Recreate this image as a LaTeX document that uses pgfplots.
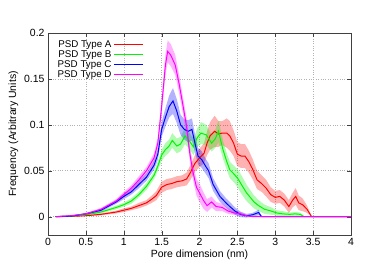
\documentclass[border=0pt]{standalone}
\usepackage{fontspec}
\setmainfont{Liberation Sans}
\usepackage{pgfplots}
\usepackage{pgfplotstable}
\pgfplotsset{compat=1.18}
\usepgfplotslibrary{fillbetween}

\definecolor{cA}{RGB}{255,0,0}
\definecolor{cB}{RGB}{0,245,0}
\definecolor{cC}{RGB}{0,0,255}
\definecolor{cD}{RGB}{255,0,255}

% x = pore dimension, y = mean frequency, e = half width of the band
\pgfplotstableread{
x y e
0.1 0 0
0.3 0.0003 0.0002
0.5 0.001 0.0005
0.7 0.0025 0.001
0.9 0.005 0.0015
1.0 0.007 0.002
1.1 0.009 0.002
1.2 0.012 0.003
1.3 0.015 0.003
1.37 0.019 0.004
1.43 0.023 0.005
1.50 0.032 0.006
1.57 0.035 0.006
1.63 0.036 0.006
1.70 0.038 0.006
1.77 0.039 0.006
1.83 0.041 0.007
1.88 0.048 0.008
1.94 0.058 0.009
2.00 0.064 0.010
2.06 0.069 0.011
2.10 0.080 0.013
2.14 0.088 0.015
2.20 0.093 0.017
2.25 0.090 0.014
2.30 0.091 0.013
2.36 0.091 0.016
2.40 0.088 0.016
2.45 0.080 0.014
2.50 0.068 0.013
2.55 0.066 0.013
2.60 0.066 0.013
2.65 0.060 0.012
2.70 0.052 0.011
2.76 0.040 0.010
2.82 0.036 0.009
2.88 0.031 0.009
2.94 0.024 0.008
3.00 0.021 0.007
3.06 0.022 0.007
3.12 0.018 0.007
3.18 0.011 0.007
3.23 0.018 0.008
3.27 0.022 0.009
3.31 0.015 0.008
3.36 0.013 0.007
3.42 0.008 0.004
3.48 0 0
4.0 0 0
}\tA

\pgfplotstableread{
x y e
0.1 0 0
0.3 0.0005 0.0003
0.5 0.002 0.0008
0.7 0.005 0.0015
0.9 0.010 0.002
1.0 0.013 0.002
1.1 0.017 0.003
1.2 0.024 0.003
1.3 0.033 0.004
1.4 0.045 0.004
1.45 0.055 0.005
1.50 0.067 0.006
1.55 0.073 0.007
1.60 0.077 0.007
1.64 0.083 0.008
1.70 0.077 0.008
1.75 0.079 0.008
1.81 0.088 0.009
1.86 0.083 0.009
1.92 0.076 0.009
1.97 0.086 0.010
2.02 0.091 0.012
2.09 0.089 0.011
2.16 0.080 0.009
2.21 0.085 0.010
2.25 0.093 0.012
2.31 0.073 0.010
2.36 0.060 0.009
2.40 0.051 0.009
2.46 0.046 0.009
2.51 0.041 0.010
2.56 0.034 0.010
2.62 0.026 0.009
2.67 0.021 0.008
2.72 0.016 0.007
2.78 0.012 0.006
2.86 0.008 0.005
2.95 0.006 0.004
3.02 0.004 0.003
3.10 0.003 0.003
3.19 0.0025 0.002
3.26 0.003 0.002
3.33 0.0025 0.002
3.38 0 0
4.0 0 0
}\tB

\pgfplotstableread{
x y e
0.1 0 0
0.3 0.0005 0.0003
0.5 0.003 0.001
0.7 0.007 0.0015
0.9 0.016 0.002
1.0 0.022 0.003
1.1 0.027 0.003
1.2 0.035 0.004
1.3 0.043 0.004
1.4 0.056 0.005
1.45 0.068 0.006
1.50 0.095 0.008
1.55 0.108 0.010
1.60 0.120 0.012
1.65 0.126 0.014
1.70 0.115 0.013
1.75 0.100 0.011
1.80 0.095 0.011
1.85 0.093 0.012
1.90 0.095 0.012
1.94 0.080 0.010
1.98 0.066 0.009
2.03 0.062 0.009
2.08 0.055 0.008
2.12 0.050 0.008
2.18 0.035 0.007
2.27 0.022 0.006
2.35 0.015 0.005
2.40 0.011 0.005
2.47 0.006 0.004
2.54 0.0025 0.003
2.62 0.001 0.002
2.70 0.002 0.002
2.78 0.0045 0.003
2.82 0 0
4.0 0 0
}\tC

\pgfplotstableread{
x y e
0.1 0 0
0.3 0.001 0.0005
0.5 0.003 0.001
0.7 0.008 0.0015
0.9 0.017 0.002
1.0 0.024 0.003
1.1 0.031 0.003
1.2 0.040 0.004
1.3 0.050 0.004
1.4 0.064 0.005
1.45 0.080 0.006
1.50 0.120 0.008
1.55 0.165 0.011
1.58 0.180 0.012
1.62 0.176 0.012
1.68 0.165 0.011
1.73 0.145 0.010
1.78 0.122 0.009
1.83 0.098 0.009
1.87 0.070 0.008
1.91 0.050 0.008
1.96 0.032 0.009
2.00 0.026 0.010
2.05 0.018 0.009
2.10 0.012 0.007
2.16 0.016 0.006
2.22 0.011 0.005
2.30 0.010 0.004
2.38 0.006 0.003
2.46 0.004 0.002
2.54 0.003 0.002
2.62 0.001 0.001
2.70 0 0
4.0 0 0
}\tD

\begin{document}
\begin{tikzpicture}
\begin{axis}[
    scale only axis,
    width=303bp, height=202bp,
    xmin=0, xmax=4, ymin=-0.02, ymax=0.2,
    xtick={0,0.5,...,4},
    ytick={0,0.05,...,0.2},
    yticklabel style={/pgf/number format/fixed, /pgf/number format/precision=2},
    /pgf/number format/assume math mode=true,
    scaled y ticks=false,
    tick label style={font=\fontsize{10.5}{12}\selectfont},
    label style={font=\fontsize{10.5}{12}\selectfont},
    xlabel={Pore dimension (nm)},
    ylabel={Frequency (Arbitrary Units)},
    xlabel style={yshift=3pt},
    ylabel style={yshift=-1pt},
    grid=major,
    grid style={dotted, gray!60, line width=0.5pt},
    axis line style={black!75},
    major tick length=4bp,
    tick style={black!75},
    legend style={draw=none, fill=none, at={(0.015,0.985)}, anchor=north west,
        font=\fontsize{9.8}{11}\selectfont, row sep=-2.2pt},
    legend plot pos=right,
    legend cell align=right,
    legend image code/.code={\draw[#1] (0bp,0bp) -- (29bp,0bp);},
]
\coordinate (sw) at (rel axis cs:0,0);
\coordinate (ne) at (rel axis cs:1,1);

% bands
\addplot[draw=none, name path=aU, forget plot] table[x=x, y expr=\thisrow{y}+\thisrow{e}] {\tA};
\addplot[draw=none, name path=aL, forget plot] table[x=x, y expr=\thisrow{y}-\thisrow{e}] {\tA};
\addplot[cA, fill opacity=0.3, draw=none, forget plot] fill between[of=aU and aL];
\addplot[draw=none, name path=bU, forget plot] table[x=x, y expr=\thisrow{y}+\thisrow{e}] {\tB};
\addplot[draw=none, name path=bL, forget plot] table[x=x, y expr=\thisrow{y}-\thisrow{e}] {\tB};
\addplot[cB, fill opacity=0.3, draw=none, forget plot] fill between[of=bU and bL];
\addplot[draw=none, name path=cU, forget plot] table[x=x, y expr=\thisrow{y}+\thisrow{e}] {\tC};
\addplot[draw=none, name path=cL, forget plot] table[x=x, y expr=\thisrow{y}-\thisrow{e}] {\tC};
\addplot[cC, fill opacity=0.3, draw=none, forget plot] fill between[of=cU and cL];
\addplot[draw=none, name path=dU, forget plot] table[x=x, y expr=\thisrow{y}+\thisrow{e}] {\tD};
\addplot[draw=none, name path=dL, forget plot] table[x=x, y expr=\thisrow{y}-\thisrow{e}] {\tD};
\addplot[cD, fill opacity=0.3, draw=none, forget plot] fill between[of=dU and dL];

% mean curves
\addplot[cA, line width=1pt] table[x=x, y=y] {\tA};
\addlegendentry{PSD Type A}
\addplot[cB, line width=1pt] table[x=x, y=y] {\tB};
\addlegendentry{PSD Type B}
\addplot[cC, line width=1pt] table[x=x, y=y] {\tC};
\addlegendentry{PSD Type C}
\addplot[cD, line width=1pt] table[x=x, y=y] {\tD};
\addlegendentry{PSD Type D}
\end{axis}
\path ([shift={(-48bp,-45bp)}]sw) rectangle ([shift={(23bp,33bp)}]ne);
\end{tikzpicture}
\end{document}
